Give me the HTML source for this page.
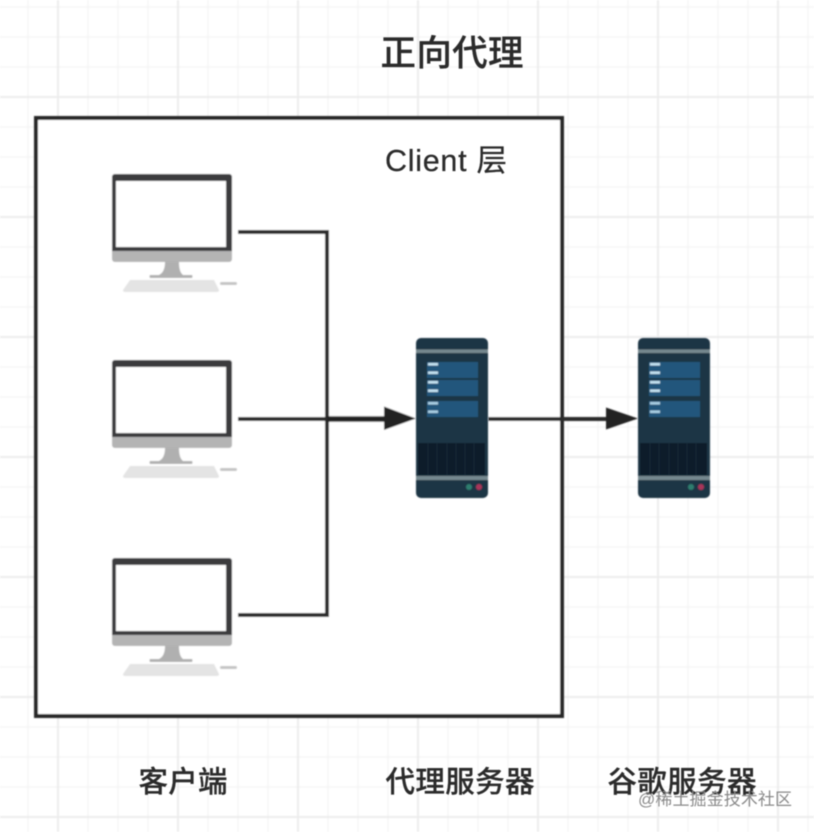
<!DOCTYPE html>
<html><head><meta charset="utf-8"><style>
html,body{margin:0;padding:0;background:#fff;width:814px;height:832px;overflow:hidden}
svg{display:block}
text{font-family:"Liberation Sans","Noto Sans CJK SC",sans-serif;fill:#2b2b2b;stroke:#2b2b2b;stroke-width:.25px}
</style></head><body>
<svg width="814" height="832" viewBox="0 0 814 832" xmlns="http://www.w3.org/2000/svg">
<defs>
<filter id="b" x="-5%" y="-5%" width="110%" height="110%"><feGaussianBlur stdDeviation="0.7"/></filter>
<filter id="s" x="-5%" y="-5%" width="110%" height="110%"><feGaussianBlur stdDeviation="0.9"/></filter>
<filter id="g" x="0" y="0" width="100%" height="100%"><feGaussianBlur stdDeviation="0.9"/></filter>
<g id="mon">
<rect x="112" y="174" width="120" height="88" rx="3" fill="#b4b4b4"/>
<path d="M112 177a3 3 0 0 1 3-3h114a3 3 0 0 1 3 3v74h-120z" fill="#3a3a3c"/>
<rect x="116" y="181" width="110" height="66" fill="#fff"/>
<path d="M165 262h14q0 10 4 13h9q1 1 0 3h-42q-1-2 0-3h9q6-3 6-13z" fill="#b0b0b0"/>
<path d="M130 280h84l5 10q0 2-2 2h-92q-2 0-2-2z" fill="#e4e4e4"/>
<rect x="220" y="282" width="17" height="3" rx="1.5" fill="#c4c4c4"/>
</g>
<g id="srv">
<rect x="416" y="338" width="72" height="160" rx="5" fill="#1e3444"/>
<rect x="416" y="349.500" width="72" height="3.500" fill="#76888f"/>
<rect x="427" y="362" width="51" height="16" fill="#22577c"/>
<rect x="427" y="380" width="51" height="16" fill="#22577c"/>
<rect x="427" y="401" width="51" height="16" fill="#22577c"/>
<rect x="428" y="363" width="10" height="2.500" fill="#c4e2f2"/>
<rect x="428" y="371.500" width="10" height="2.500" fill="#c4e2f2"/>
<rect x="428" y="381" width="10" height="2.500" fill="#c4e2f2"/>
<rect x="428" y="389.500" width="10" height="2.500" fill="#c4e2f2"/>
<rect x="428" y="402" width="10" height="2.500" fill="#a9cfe4"/>
<rect x="428" y="410.500" width="10" height="2.500" fill="#a9cfe4"/>
<rect x="418" y="443" width="67" height="32" fill="#0f1f2b"/>
<path d="M428 443v32M437 443v32M447 443v32M456 443v32M465 443v32M474 443v32" stroke="#182a38" stroke-width="1"/>
<rect x="416" y="476" width="72" height="4" fill="#76888f"/>
<circle cx="469" cy="487" r="3" fill="#2f7d6e"/>
<circle cx="479" cy="487" r="3" fill="#a8345a"/>
</g>
</defs>

<g filter="url(#g)" fill="none">
<g stroke="#f5f5f5" stroke-width="1.500">
<path d="M0 7H814M0 37H814M0 67H814M0 127H814M0 157H814M0 187H814M0 247H814M0 277H814M0 307H814M0 367H814M0 397H814M0 427H814M0 487H814M0 517H814M0 547H814M0 607H814M0 637H814M0 667H814M0 727H814M0 757H814M0 787H814"/>
<path d="M28 0V832M88 0V832M118 0V832M148 0V832M208 0V832M238 0V832M268 0V832M328 0V832M358 0V832M388 0V832M448 0V832M478 0V832M508 0V832M568 0V832M598 0V832M628 0V832M688 0V832M718 0V832M748 0V832M808 0V832"/>
</g>
<g stroke="#ededed" stroke-width="2">
<path d="M0 97H814M0 217H814M0 337H814M0 457H814M0 577H814M0 697H814M0 817H814"/>
<path d="M58 0V832M178 0V832M298 0V832M418 0V832M538 0V832M658 0V832M778 0V832"/>
</g>
</g>

<g filter="url(#b)">
<rect x="36" y="118" width="526" height="598" fill="#fff" stroke="#262626" stroke-width="4"/>
<use href="#mon"/>
<use href="#mon" y="186"/>
<use href="#mon" y="384"/>
<path d="M238 232H327V615H238" fill="none" stroke="#2b2b2b" stroke-width="4"/>
<path d="M238 419H328" fill="none" stroke="#2b2b2b" stroke-width="4"/>
<path d="M327 419H390" fill="none" stroke="#222" stroke-width="5.500"/>
<path d="M384 406.500L416 418.500L384 430z" fill="#222"/>
<path d="M488 419H610" fill="none" stroke="#2b2b2b" stroke-width="4"/>
<path d="M606 407.500L638 418.500L606 429.500z" fill="#222"/>
</g>
<g filter="url(#s)">
<use href="#srv"/>
<use href="#srv" x="222"/>
</g>

<g style="filter:blur(.4px)">
<text x="380.500" y="65" font-size="35.500" font-weight="500" textLength="143" lengthAdjust="spacing">正向代理</text>
<text x="385" y="171" font-size="30.500" textLength="122" lengthAdjust="spacing">Client 层</text>
<text x="138.500" y="792" font-size="29.500" font-weight="500" textLength="89" lengthAdjust="spacing">客户端</text>
<text x="385.500" y="792" font-size="29.500" font-weight="500" textLength="149" lengthAdjust="spacing">代理服务器</text>
<text x="607.500" y="792" font-size="29.500" font-weight="500" textLength="149" lengthAdjust="spacing">谷歌服务器</text>
<text x="638" y="805" font-size="17" style="fill:#8a8a8a;stroke:none" textLength="154" lengthAdjust="spacing">@稀土掘金技术社区</text>
</g>
</svg>
</body></html>
